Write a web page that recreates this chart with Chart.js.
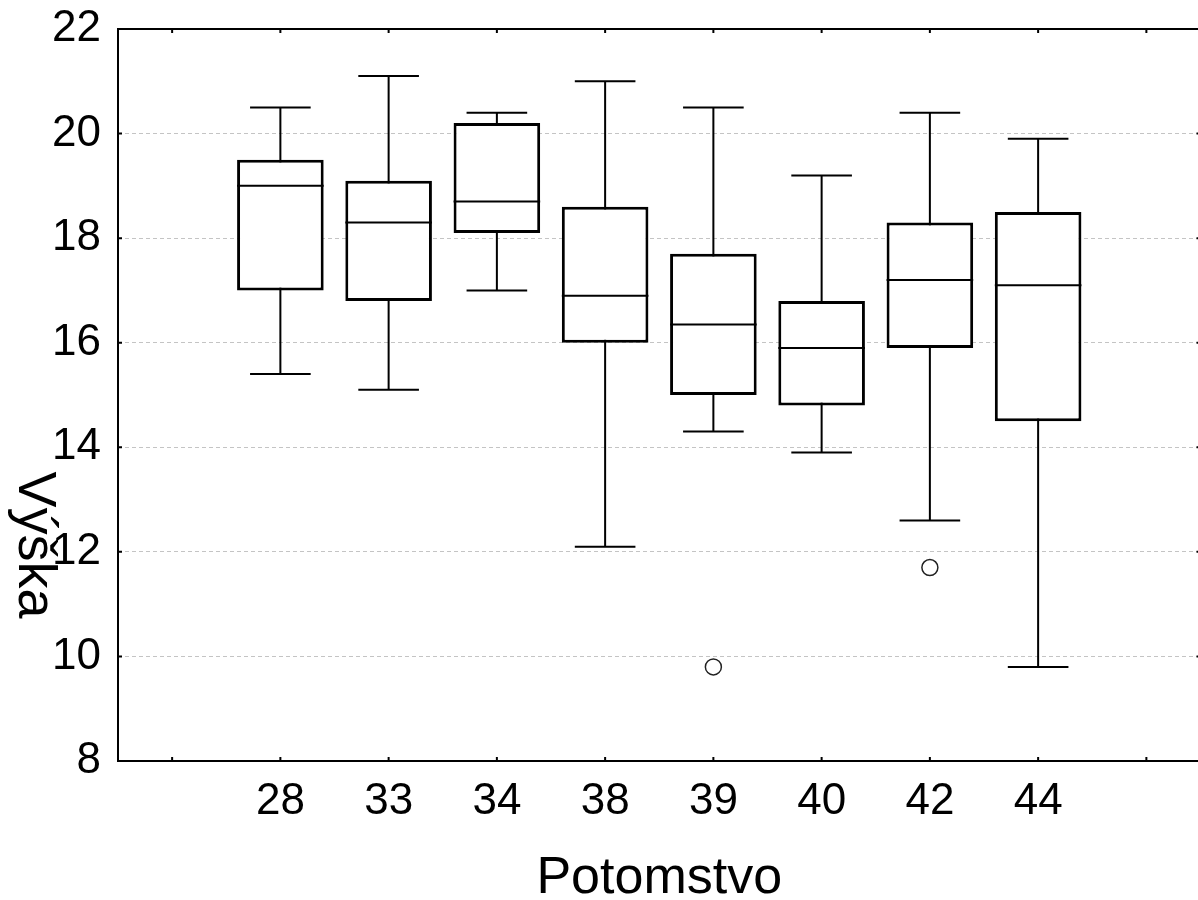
<!DOCTYPE html>
<html>
<head>
<meta charset="utf-8">
<title>Výška podľa potomstva</title>
<script src="https://cdn.jsdelivr.net/npm/chart.js@4/dist/chart.umd.min.js"></script>
<style>
    html, body { margin: 0; padding: 0; background: #ffffff; overflow: hidden; }
    #contenedor { width: 1210px; height: 900px; }
</style>
</head>
<body>
<div id="contenedor"><canvas id="graficoCajas" width="1210" height="900"></canvas></div>
<script>
// Datos (Potomstvo / Výška)
const categorias = ['', '28', '33', '34', '38', '39', '40', '42', '44', ''];
const bigoteInf = [null, 15.4, 15.1, 17.0, 12.1, 14.3, 13.9, 12.6, 9.8, null];
const cuartil1  = [null, 17.0, 16.8, 18.1, 16.0, 15.0, 14.8, 15.9, 14.5, null];
const mediana   = [null, 19.0, 18.3, 18.7, 16.9, 16.35, 15.9, 17.2, 17.1, null];
const cuartil3  = [null, 19.5, 19.1, 20.2, 18.6, 17.7, 16.8, 18.3, 18.5, null];
const bigoteSup = [null, 20.5, 21.1, 20.4, 21.0, 20.5, 19.2, 20.4, 19.9, null];
const atipicos  = [null, null, null, null, null, 9.8, null, 11.7, null, null];
const ticksY = [8, 10, 12, 14, 16, 18, 20, 22];

const tituloX = 'Potomstvo';
const tituloY = 'Výška';
const fuente = '"Liberation Sans", Arial, sans-serif';

// Cajas como barras flotantes [Q1, Q3]
const cajas = categorias.map((c, i) => cuartil1[i] === null ? null : [cuartil1[i], cuartil3[i]]);

// Plugin para bigotes, medianas, marco y textos de los ejes
const pluginCajas = {
    id: 'pluginCajas',
    beforeDatasetsDraw(chart) {
        const ctx = chart.ctx;
        const x = chart.scales.x;
        const y = chart.scales.y;
        const barras = chart.getDatasetMeta(0).data;
        ctx.save();
        ctx.strokeStyle = '#000000';
        ctx.lineWidth = 2;
        categorias.forEach((c, i) => {
            if (bigoteInf[i] === null) return;
            const px = x.getPixelForValue(i);
            const media = barras[i].width * 0.35;
            const yInf = y.getPixelForValue(bigoteInf[i]);
            const ySup = y.getPixelForValue(bigoteSup[i]);
            ctx.beginPath();
            ctx.moveTo(px, yInf);
            ctx.lineTo(px, ySup);
            ctx.moveTo(px - media, yInf);
            ctx.lineTo(px + media, yInf);
            ctx.moveTo(px - media, ySup);
            ctx.lineTo(px + media, ySup);
            ctx.stroke();
        });
        ctx.restore();
    },
    afterDatasetsDraw(chart) {
        const ctx = chart.ctx;
        const x = chart.scales.x;
        const y = chart.scales.y;
        const area = chart.chartArea;
        const barras = chart.getDatasetMeta(0).data;
        ctx.save();
        ctx.strokeStyle = '#000000';

        // medianas
        ctx.lineWidth = 2;
        categorias.forEach((c, i) => {
            if (mediana[i] === null) return;
            const px = x.getPixelForValue(i);
            const media = barras[i].width / 2;
            const py = y.getPixelForValue(mediana[i]);
            ctx.beginPath();
            ctx.moveTo(px - media, py);
            ctx.lineTo(px + media, py);
            ctx.stroke();
        });

        // marco
        ctx.lineWidth = 2;
        ctx.strokeRect(area.left, area.top, area.right - area.left, area.bottom - area.top);

        // marcas hacia dentro
        ctx.beginPath();
        categorias.forEach((c, i) => {
            const px = x.getPixelForValue(i);
            ctx.moveTo(px, area.bottom);
            ctx.lineTo(px, area.bottom - 4);
            ctx.moveTo(px, area.top);
            ctx.lineTo(px, area.top + 4);
        });
        ticksY.forEach(v => {
            const py = y.getPixelForValue(v);
            ctx.moveTo(area.left, py);
            ctx.lineTo(area.left + 4, py);
            ctx.moveTo(area.right, py);
            ctx.lineTo(area.right - 4, py);
        });
        ctx.stroke();
        ctx.restore();
    },
    afterDraw(chart) {
        const ctx = chart.ctx;
        const area = chart.chartArea;
        ctx.save();
        ctx.fillStyle = '#000000';
        ctx.font = '52px ' + fuente;
        ctx.textAlign = 'center';
        ctx.textBaseline = 'alphabetic';
        ctx.fillText(tituloX, (area.left + area.right) / 2, 893);

        ctx.translate(19, 545);
        ctx.rotate(Math.PI / 2);
        ctx.font = '54px ' + fuente;
        ctx.textAlign = 'center';
        ctx.textBaseline = 'alphabetic';
        ctx.fillText(tituloY, 0, 0);
        ctx.restore();
    }
};

const ctx = document.getElementById('graficoCajas').getContext('2d');
const grafico = new Chart(ctx, {
    data: {
        labels: categorias,
        datasets: [
            {
                type: 'bar',
                data: cajas,
                backgroundColor: '#ffffff',
                borderColor: '#000000',
                borderWidth: 3,
                borderSkipped: false,
                barPercentage: 0.8,
                categoryPercentage: 1.0,
                order: 2
            },
            {
                type: 'line',
                data: atipicos,
                showLine: false,
                pointStyle: 'circle',
                pointRadius: 8,
                pointBackgroundColor: '#ffffff',
                pointBorderColor: '#222222',
                pointBorderWidth: 1.5,
                order: 1
            }
        ]
    },
    options: {
        responsive: false,
        devicePixelRatio: 1,
        animation: false,
        layout: { padding: { top: 29, right: 4, left: 0, bottom: 0 } },
        plugins: {
            legend: { display: false },
            tooltip: { enabled: false }
        },
        scales: {
            x: {
                type: 'category',
                offset: true,
                grid: { display: false, drawTicks: false },
                border: { display: false },
                ticks: {
                    color: '#000000',
                    font: { size: 44, family: fuente },
                    padding: 14,
                    autoSkip: false,
                    maxRotation: 0
                },
                afterFit(scale) {
                    scale.height = 139;
                    scale.paddingLeft = 0;
                    scale.paddingRight = 0;
                }
            },
            y: {
                min: 8,
                max: 22,
                grid: {
                    drawTicks: false,
                    color: c => (c.tick && (c.tick.value === 8 || c.tick.value === 22)) ? 'rgba(0,0,0,0)' : '#c4c4c4',
                    lineWidth: 1
                },
                border: { display: false, dash: [4, 3] },
                ticks: {
                    stepSize: 2,
                    color: '#000000',
                    font: { size: 44, family: fuente },
                    padding: 17
                },
                afterFit(scale) {
                    scale.width = 118;
                    scale.paddingTop = 0;
                    scale.paddingBottom = 0;
                }
            }
        }
    },
    plugins: [pluginCajas]
});
</script>
</body>
</html>
